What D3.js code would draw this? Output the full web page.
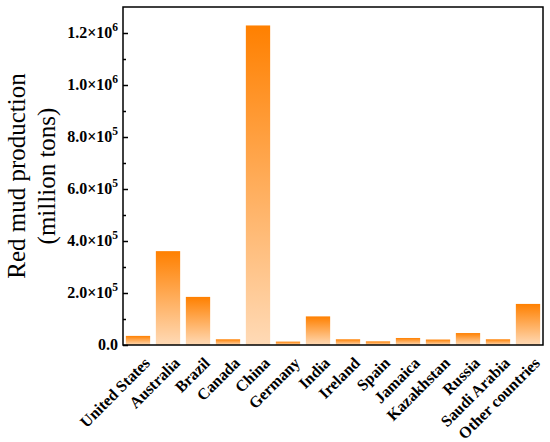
<!DOCTYPE html>
<html>
<head>
<meta charset="utf-8">
<script src="https://cdn.jsdelivr.net/npm/d3@7"></script>
<style>
  body { margin: 0; background: #fff; }
  svg { display: block; font-family: "Liberation Serif", "Times New Roman", serif; }
</style>
</head>
<body>
<div id="chart"></div>
<script>
const countries = ['United States', 'Australia', 'Brazil', 'Canada', 'China', 'Germany', 'India',
  'Ireland', 'Spain', 'Jamaica', 'Kazakhstan', 'Russia', 'Saudi Arabia', 'Other countries'];
const production = [35000, 361000, 185000, 22000, 1229000, 13000, 110000,
  22000, 14000, 27000, 21000, 46000, 22000, 158000];
const majorTicks = [0, 200000, 400000, 600000, 800000, 1000000, 1200000];
const tickMantissa = ['0.0', '2.0', '4.0', '6.0', '8.0', '1.0', '1.2'];
const tickExponent = ['', '5', '5', '5', '5', '6', '6'];
const minorTicks = [100000, 300000, 500000, 700000, 900000, 1100000];

const width = 550;
const height = 442;
const margin = { top: 7, right: 7, bottom: 97, left: 123 };

const svg = d3.select('#chart')
  .append('svg')
  .attr('width', width)
  .attr('height', height);

// per-bar vertical gradient, dark orange on top
const grad = svg.append('defs').append('linearGradient')
  .attr('id', 'barFill')
  .attr('x1', 0).attr('y1', 0)
  .attr('x2', 0).attr('y2', 1);
grad.append('stop').attr('offset', '0%').attr('stop-color', '#ff8000');
grad.append('stop').attr('offset', '100%').attr('stop-color', '#ffdab6');

const x = d3.scaleBand()
  .domain(countries)
  .range([margin.left, width - margin.right])
  .paddingInner(0.19)
  .paddingOuter(0.095);

const y = d3.scaleLinear()
  .domain([0, 1300000])
  .range([height - margin.bottom, margin.top]);

// bars
svg.selectAll('.bar')
  .data(countries)
  .enter().append('rect')
  .attr('class', 'bar')
  .attr('x', d => x(d))
  .attr('y', (d, i) => y(production[i]))
  .attr('width', x.bandwidth())
  .attr('height', (d, i) => y(0) - y(production[i]))
  .attr('fill', 'url(#barFill)');

// y axis with inward ticks
const yAxis = svg.append('g')
  .attr('transform', `translate(${margin.left},0)`)
  .call(d3.axisLeft(y).tickValues(majorTicks).tickSize(-5).tickFormat(''));
yAxis.select('.domain').remove();
yAxis.selectAll('line').attr('stroke', '#000').attr('stroke-width', 1.5);

const yMinor = svg.append('g')
  .attr('transform', `translate(${margin.left},0)`)
  .call(d3.axisLeft(y).tickValues(minorTicks).tickSize(-3).tickFormat(''));
yMinor.select('.domain').remove();
yMinor.selectAll('line').attr('stroke', '#000').attr('stroke-width', 1.5);

// tick labels with superscript exponent
const labels = svg.append('g')
  .selectAll('text')
  .data(majorTicks)
  .enter().append('text')
  .attr('x', margin.left - 5)
  .attr('y', d => y(d) + 5)
  .attr('text-anchor', 'end')
  .attr('font-size', 16)
  .attr('font-weight', 'bold');
labels.append('tspan').text((d, i) => tickMantissa[i] + (tickExponent[i] ? '×10' : ''));
labels.append('tspan')
  .attr('dy', -7)
  .attr('font-size', 11.5)
  .text((d, i) => tickExponent[i]);

// x axis labels, rotated
const xAxis = svg.append('g')
  .attr('transform', `translate(0,${height - margin.bottom})`)
  .call(d3.axisBottom(x).tickSize(0).tickPadding(0));
xAxis.select('.domain').remove();
xAxis.selectAll('text')
  .attr('font-family', '"Liberation Serif", "Times New Roman", serif')
  .attr('font-size', 16)
  .attr('font-weight', 'bold')
  .attr('fill', '#000')
  .attr('dy', null)
  .attr('y', 0)
  .attr('text-anchor', 'end')
  .attr('transform', 'translate(13,19) rotate(-45)');

// frame
svg.append('rect')
  .attr('x', margin.left)
  .attr('y', margin.top)
  .attr('width', width - margin.left - margin.right)
  .attr('height', height - margin.top - margin.bottom)
  .attr('fill', 'none')
  .attr('stroke', '#000')
  .attr('stroke-width', 1.5);

// y axis title
const midY = (margin.top + height - margin.bottom) / 2;
const title = svg.append('text')
  .attr('transform', `translate(0,${midY}) rotate(-90)`)
  .attr('text-anchor', 'middle')
  .attr('font-size', 25);
title.append('tspan').attr('x', 0).attr('y', 25).text('Red mud production');
title.append('tspan').attr('x', 0).attr('y', 55).text('(million tons)');
</script>
</body>
</html>
